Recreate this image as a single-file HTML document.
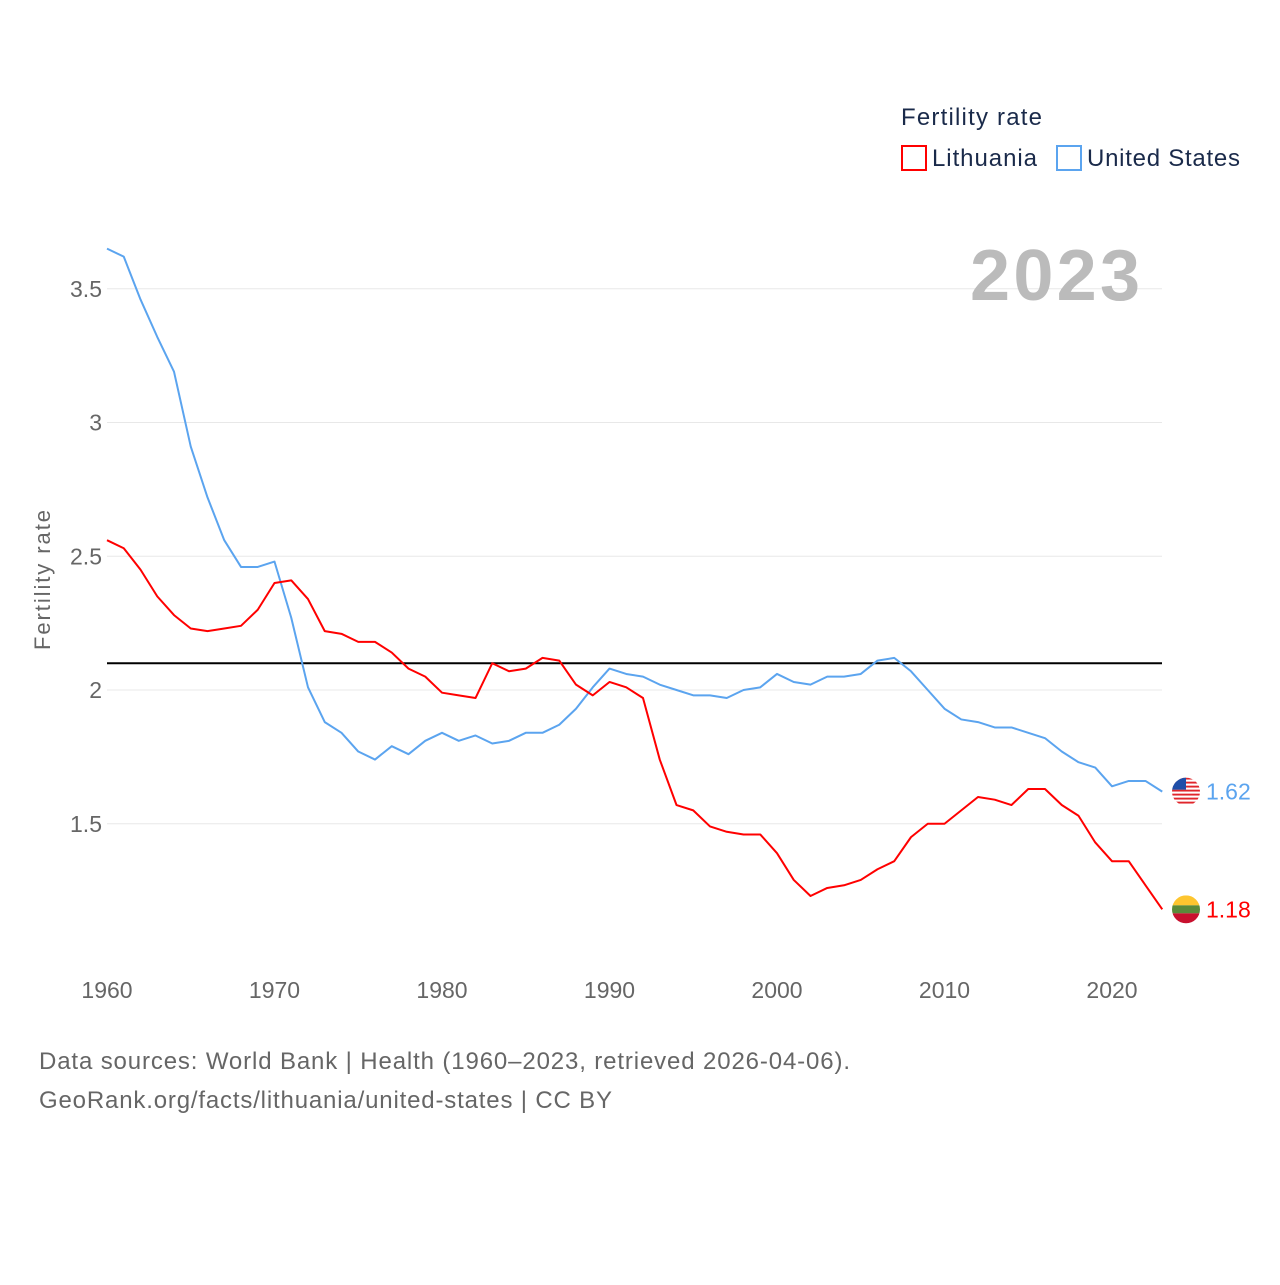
<!DOCTYPE html>
<html><head><meta charset="utf-8"><style>
body{margin:0;background:#fff;font-family:"Liberation Sans",sans-serif}
svg text{font-family:"Liberation Sans",sans-serif}
</style></head><body>
<svg id="chart" width="1280" height="1280" viewBox="0 0 1280 1280" xmlns="http://www.w3.org/2000/svg">
<defs>
<clipPath id="cpUS"><circle cx="1186" cy="791" r="14"/></clipPath>
<clipPath id="cpLT"><circle cx="1186" cy="908" r="14"/></clipPath>
</defs>
<g id="grid"></g>
<g id="yticks"></g>
<g id="xticks"></g>
<text transform="translate(50,580) rotate(-90)" text-anchor="middle" font-size="22" fill="#666" textLength="140">Fertility rate</text>
<text x="1140" y="300" text-anchor="end" font-size="72" font-weight="bold" fill="#bbb" textLength="170">2023</text>
<g id="lines"></g>
<g>
<text x="901" y="125" font-size="24" fill="#1a2a4a" textLength="141">Fertility rate</text>
<rect x="902" y="146" width="24" height="24" fill="none" stroke="#f00" stroke-width="2"/>
<text x="932" y="166" font-size="24" fill="#1a2a4a" textLength="105">Lithuania</text>
<rect x="1057" y="146" width="24" height="24" fill="none" stroke="#5ba4ef" stroke-width="2"/>
<text x="1087" y="166" font-size="24" fill="#1a2a4a" textLength="153">United States</text>
</g>
<text x="39" y="1069" font-size="24" fill="#666" textLength="811">Data sources: World Bank | Health (1960–2023, retrieved 2026-04-06).</text>
<text x="39" y="1108" font-size="24" fill="#666" textLength="573">GeoRank.org/facts/lithuania/united-states | CC BY</text>
</svg>
<script>
const years=[];for(let y=1960;y<=2023;y++)years.push(y);
const usValues=[3.65,3.62,3.46,3.32,3.19,2.91,2.72,2.56,2.46,2.46,2.48,2.27,2.01,1.88,1.84,1.77,1.74,1.79,1.76,1.81,1.84,1.81,1.83,1.80,1.81,1.84,1.84,1.87,1.93,2.01,2.08,2.06,2.05,2.02,2.00,1.98,1.98,1.97,2.00,2.01,2.06,2.03,2.02,2.05,2.05,2.06,2.11,2.12,2.07,2.00,1.93,1.89,1.88,1.86,1.86,1.84,1.82,1.77,1.73,1.71,1.64,1.66,1.66,1.62];
const ltValues=[2.56,2.53,2.45,2.35,2.28,2.23,2.22,2.23,2.24,2.30,2.40,2.41,2.34,2.22,2.21,2.18,2.18,2.14,2.08,2.05,1.99,1.98,1.97,2.10,2.07,2.08,2.12,2.11,2.02,1.98,2.03,2.01,1.97,1.74,1.57,1.55,1.49,1.47,1.46,1.46,1.39,1.29,1.23,1.26,1.27,1.29,1.33,1.36,1.45,1.50,1.50,1.55,1.60,1.59,1.57,1.63,1.63,1.57,1.53,1.43,1.36,1.36,1.27,1.18];
const yTicks=[1.5,2,2.5,3,3.5];
const yTickLabels=["1.5","2","2.5","3","3.5"];
const xTicks=[1960,1970,1980,1990,2000,2010,2020];
const replacementRate=2.1;
const NS="http://www.w3.org/2000/svg";
const X=y=>107+(y-1960)*16.75;
const Y=v=>690-(v-2)*267.5;
function mk(tag,attrs,parent){const e=document.createElementNS(NS,tag);for(const k in attrs)e.setAttribute(k,attrs[k]);(typeof parent==='string'?document.getElementById(parent):parent).appendChild(e);return e;}
yTicks.forEach((v,i)=>{
 const l=mk('line',{x1:107,x2:1162,y1:Y(v),y2:Y(v),stroke:'#e8e8e8','stroke-width':1},'grid');
 
 
 const t=mk('text',{x:102,y:Y(v)+8,'text-anchor':'end','font-size':23,fill:'#666'},'yticks');t.textContent=yTickLabels[i];
 
 
});
xTicks.forEach(y=>{
 const t=mk('text',{x:X(y),y:998,'text-anchor':'middle','font-size':23,fill:'#666'},'xticks');t.textContent=y;
 
 
});
const ref=mk('line',{x1:107,x2:1162,y1:Y(replacementRate),y2:Y(replacementRate),stroke:'#000','stroke-width':2},'lines');


function series(vals,color,name){
 const p=mk('polyline',{points:vals.map((v,i)=>X(years[i])+','+Y(v)).join(' '),fill:'none',stroke:color,'stroke-width':2,'stroke-linejoin':'round'},'lines');
 
 
 const last=vals[vals.length-1];
 const cy=Y(last);
 const g=mk('g',{'clip-path':name==='us'?'url(#cpUS)':'url(#cpLT)',transform:'translate(0,'+(cy-(name==='us'?791:908))+')'},'lines');
 
 
 const base=name==='us'?791:908;
 if(name==='us'){
  for(let k=0;k<7;k++){mk('rect',{x:1172,y:base-14+k*4,width:28,height:2,fill:'#e0262b'},g);mk('rect',{x:1172,y:base-12+k*4,width:28,height:2,fill:'#fff'},g);}
  mk('rect',{x:1172,y:base-14,width:14,height:12,fill:'#1f4fa8'},g);
 }else{
  mk('rect',{x:1172,y:base-14,width:28,height:10,fill:'#fdc52f'},g);
  mk('rect',{x:1172,y:base-4,width:28,height:8,fill:'#5a8a3a'},g);
  mk('rect',{x:1172,y:base+4,width:28,height:10,fill:'#c8102e'},g);
 }
 const t=mk('text',{x:1206,y:cy+8,'font-size':23,fill:color},'lines');t.textContent=last.toFixed(2);
 
 
}
series(usValues,'#5ba4ef','us');
series(ltValues,'#f00','lithuania');
</script>
</body></html>
